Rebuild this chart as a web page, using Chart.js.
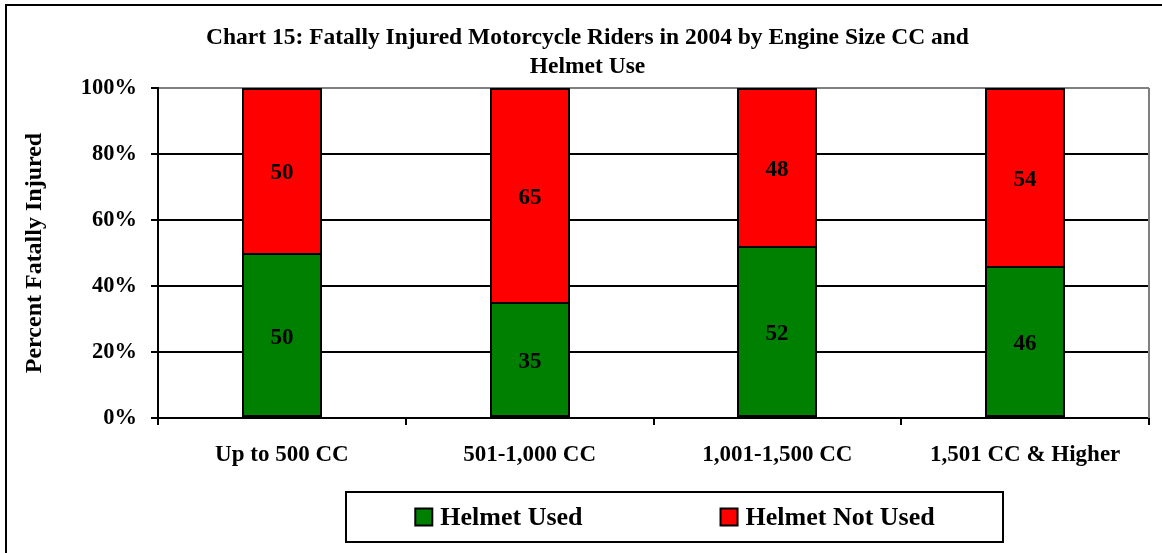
<!DOCTYPE html>
<html>
<head>
<meta charset="utf-8">
<title>Chart 15: Fatally Injured Motorcycle Riders in 2004</title>
<script src="https://cdn.jsdelivr.net/npm/chart.js@4.4.1/dist/chart.umd.min.js"></script>
<style>
    html, body { margin: 0; padding: 0; background: #fff; overflow: hidden; }
    #wrap { position: relative; width: 1162px; height: 553px; }
    /* outer chart frame, only top and left edges fall inside the picture */
    #frame { position: absolute; left: 5px; top: 4px; width: 1200px; height: 600px;
             border-top: 2px solid #000; border-left: 2px solid #000; pointer-events: none; }
</style>
</head>
<body>
<div id="wrap">
    <canvas id="chart" width="1162" height="553"></canvas>
    <div id="frame"></div>
</div>
<script>
// Data
const categories = ['Up to 500 CC', '501-1,000 CC', '1,001-1,500 CC', '1,501 CC & Higher'];
const helmetUsed = [50, 35, 52, 46];
const helmetNotUsed = [50, 65, 48, 54];
const seriesNames = ['Helmet Used', 'Helmet Not Used'];
const seriesColors = ['#008000', '#ff0000'];
const titleLines = ['Chart 15: Fatally Injured Motorcycle Riders in 2004 by Engine Size CC and', 'Helmet Use'];
const yAxisTitle = 'Percent Fatally Injured';

const FONT = "'Liberation Serif', 'Times New Roman', serif";

// Snap bar edges to whole pixels so the black outlines stay crisp
const crispBars = {
    id: 'crispBars',
    beforeDatasetsDraw(chart) {
        chart.data.datasets.forEach((ds, i) => {
            chart.getDatasetMeta(i).data.forEach(bar => {
                bar.x = Math.round(bar.x);
                bar.y = Math.round(bar.y);
                bar.base = Math.round(bar.base);
                bar.width = Math.round(bar.width);
            });
        });
    }
};

// Write each segment's value in the middle of its bar
const segmentLabels = {
    id: 'segmentLabels',
    afterDatasetsDraw(chart) {
        const ctx = chart.ctx;
        ctx.save();
        ctx.font = `bold 23px ${FONT}`;
        ctx.fillStyle = '#000';
        ctx.textAlign = 'center';
        ctx.textBaseline = 'middle';
        chart.data.datasets.forEach((ds, i) => {
            chart.getDatasetMeta(i).data.forEach((bar, j) => {
                ctx.fillText(String(ds.data[j]), bar.x, (bar.y + bar.base) / 2 + 3);
            });
        });
        ctx.restore();
    }
};

// Grey right edge of the plot area
const plotFrame = {
    id: 'plotFrame',
    beforeDatasetsDraw(chart) {
        const { ctx, chartArea } = chart;
        ctx.save();
        ctx.strokeStyle = '#808080';
        ctx.lineWidth = 2;
        ctx.beginPath();
        ctx.moveTo(chartArea.right, chartArea.top);
        ctx.lineTo(chartArea.right, chartArea.bottom);
        ctx.stroke();
        ctx.restore();
    }
};

// Boxed legend under the axis, like the spreadsheet one
const boxedLegend = {
    id: 'boxedLegend',
    afterDraw(chart) {
        const ctx = chart.ctx;
        const box = 17, textGap = 8, itemGap = 138, padX = 69;
        const top = 492, bottom = 542, centerX = 675;
        const midY = (top + bottom) / 2;
        ctx.save();
        ctx.font = `bold 26px ${FONT}`;
        const items = chart.data.datasets.map(ds => ({
            text: ds.label,
            color: ds.backgroundColor,
            w: box + textGap + ctx.measureText(ds.label).width
        }));
        const total = items.reduce((s, it) => s + it.w, 0) + itemGap * (items.length - 1);
        let x = centerX - total / 2;

        ctx.strokeStyle = '#000';
        ctx.lineWidth = 2;
        ctx.strokeRect(Math.round(x - padX), top, Math.round(total + 2 * padX), bottom - top);

        ctx.textBaseline = 'middle';
        ctx.textAlign = 'left';
        items.forEach(it => {
            ctx.fillStyle = it.color;
            ctx.fillRect(x, midY - box / 2, box, box);
            ctx.strokeRect(x, midY - box / 2, box, box);
            ctx.fillStyle = '#000';
            ctx.fillText(it.text, x + box + textGap, midY + 1);
            x += it.w + itemGap;
        });
        ctx.restore();
    }
};

Chart.defaults.font.family = FONT;
Chart.defaults.color = '#000';

const ctx = document.getElementById('chart').getContext('2d');
new Chart(ctx, {
    type: 'bar',
    data: {
        labels: categories,
        datasets: [
            {
                label: seriesNames[0],
                data: helmetUsed,
                backgroundColor: seriesColors[0],
                borderColor: '#000',
                borderWidth: 2,
                borderSkipped: false,
                inflateAmount: 0
            },
            {
                label: seriesNames[1],
                data: helmetNotUsed,
                backgroundColor: seriesColors[1],
                borderColor: '#000',
                // bottom edge is shared with the green segment's top line
                borderWidth: { top: 2, left: 2, right: 2, bottom: 0 },
                borderSkipped: false,
                inflateAmount: 0
            }
        ]
    },
    options: {
        responsive: false,
        devicePixelRatio: 1,
        animation: false,
        // left padding shifts the centred title to where the original sits
        layout: { padding: { left: 26, right: 13, top: 0, bottom: 0 } },
        datasets: {
            bar: { barPercentage: 0.323, categoryPercentage: 1.0 }
        },
        plugins: {
            legend: { display: false },
            tooltip: { enabled: false },
            title: {
                display: true,
                text: titleLines,
                color: '#000',
                font: { size: 23.5, weight: 'bold', lineHeight: 1.234 },
                padding: { top: 23, bottom: 7 }
            }
        },
        scales: {
            x: {
                stacked: true,
                afterFit: scale => { scale.height = 135; },
                grid: {
                    offset: true,
                    drawOnChartArea: false,
                    drawTicks: true,
                    tickLength: 7,
                    tickColor: '#000',
                    lineWidth: 2
                },
                border: { display: true, color: '#000', width: 2 },
                ticks: {
                    color: '#000',
                    font: { size: 23, weight: 'bold' },
                    padding: 16,
                    maxRotation: 0
                }
            },
            y: {
                stacked: true,
                min: 0,
                max: 100,
                afterFit: scale => { scale.width = 132; },
                grid: {
                    color: c => (c.tick && c.tick.value === 100 ? '#808080' : '#000'),
                    lineWidth: 2,
                    drawTicks: true,
                    tickLength: 7,
                    tickColor: '#000'
                },
                border: { display: true, color: '#000', width: 2 },
                ticks: {
                    stepSize: 20,
                    color: '#000',
                    font: { size: 22.5, weight: 'bold' },
                    padding: 14,
                    callback: v => v + '%'
                },
                title: {
                    display: true,
                    text: yAxisTitle,
                    color: '#000',
                    font: { size: 24, weight: 'bold', lineHeight: 0.75 },
                    padding: { top: 0, bottom: 0 }
                }
            }
        }
    },
    plugins: [crispBars, plotFrame, segmentLabels, boxedLegend]
});
</script>
</body>
</html>
